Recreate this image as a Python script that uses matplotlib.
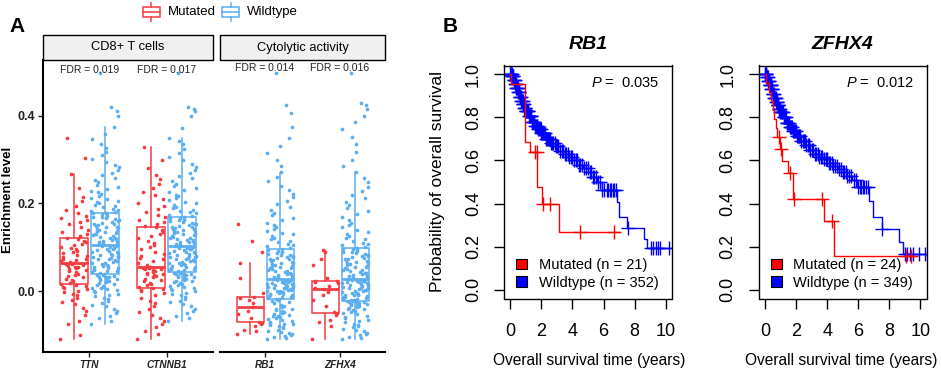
import numpy as np
import matplotlib
matplotlib.use("Agg")
import matplotlib.pyplot as plt
from matplotlib.patches import Rectangle, Patch

plt.rcParams["font.family"] = ["Liberation Sans", "DejaVu Sans"]
plt.rcParams["mathtext.fontset"] = "custom"
plt.rcParams["mathtext.it"] = "Liberation Sans:italic"
plt.rcParams["mathtext.rm"] = "Liberation Sans"

RED = "#F53B40"
BLUE = "#5BAEF2"

# ---------------- panel A: enrichment level ----------------
FACETS = ["CD8+ T cells", "Cytolytic activity"]
GENES = [["TTN", "CTNNB1"], ["RB1", "ZFHX4"]]
FDR_LABELS = [["FDR = 0.019", "FDR = 0.017"], ["FDR = 0.014", "FDR = 0.016"]]

# box stats: whisker low, q1, median, q3, whisker high
BOX_TTN_MUT = [-0.109, 0.015, 0.063, 0.120, 0.267]
BOX_TTN_WT = [-0.074, 0.038, 0.106, 0.179, 0.375]
BOX_CTNNB1_MUT = [-0.109, 0.008, 0.054, 0.146, 0.328]
BOX_CTNNB1_WT = [-0.068, 0.043, 0.103, 0.170, 0.350]
BOX_RB1_MUT = [-0.098, -0.070, -0.037, -0.013, 0.065]
BOX_RB1_WT = [-0.110, -0.019, 0.028, 0.097, 0.269]
BOX_ZFHX4_MUT = [-0.109, -0.049, 0.005, 0.023, 0.094]
BOX_ZFHX4_WT = [-0.110, -0.022, 0.028, 0.099, 0.271]

# sample points (enrichment level x 1000), estimated from the jittered dots
TTN_MUT = [-109, -100, -75, -68, -55, -45, -38, -30, -25, -20, -15, -10, -6, -2, 1, 4, 7, 10, 12, 14,
           16, 19, 22, 25, 28, 31, 34, 37, 40, 43, 45, 48, 50, 52, 54, 56, 58, 60, 61, 62,
           64, 66, 68, 70, 72, 74, 77, 80, 83, 86, 89, 92, 95, 98, 101, 104, 108, 112, 115, 119,
           122, 126, 130, 135, 140, 146, 152, 158, 162, 167, 172, 178, 185, 195, 205, 215, 235, 267, 303, 350]
TTN_WT = [-74, -68, -62, -56, -50, -45, -40, -35, -31, -27, -23, -19, -15, -12, -9, -6, -3, 0, 2, 4,
          6, 8, 10, 12, 14, 16, 18, 20, 22, 24, 25, 27, 28, 30, 31, 32, 33, 35, 36, 37,
          39, 41, 43, 45, 46, 48, 50, 52, 53, 55, 57, 58, 60, 62, 63, 65, 67, 68, 70, 72,
          73, 75, 77, 78, 80, 82, 83, 85, 87, 88, 90, 92, 93, 95, 97, 98, 100, 102, 103, 105,
          107, 109, 111, 113, 114, 116, 118, 120, 122, 123, 125, 127, 129, 131, 132, 134, 136, 138, 140, 141,
          143, 145, 147, 149, 150, 152, 154, 156, 158, 160, 162, 164, 166, 168, 170, 172, 174, 175, 177, 178,
          181, 183, 186, 188, 191, 194, 197, 200, 203, 206, 209, 213, 217, 221, 225, 229, 233, 238, 243, 248,
          253, 258, 264, 270, 276, 282, 288, 295, 302, 310, 318, 327, 336, 346, 358, 375, 400, 410, 420, 497]
CTNNB1_MUT = [-109, -98, -90, -82, -75, -68, -62, -55, -48, -42, -35, -28, -22, -16, -10, -5, -1, 2, 5, 7,
              10, 13, 16, 19, 22, 25, 28, 31, 34, 36, 38, 40, 42, 44, 46, 48, 50, 51, 52, 53,
              56, 60, 64, 68, 72, 76, 80, 85, 90, 95, 100, 105, 110, 115, 120, 125, 130, 135, 140, 145,
              148, 152, 157, 162, 168, 174, 180, 187, 194, 201, 209, 218, 227, 236, 245, 255, 265, 280, 300, 328]
CTNNB1_WT = [-68, -62, -56, -50, -45, -40, -35, -30, -26, -22, -18, -14, -10, -7, -4, -1, 2, 5, 8, 10,
             12, 14, 16, 18, 20, 22, 24, 26, 28, 30, 31, 33, 34, 36, 37, 38, 39, 40, 41, 42,
             44, 45, 47, 48, 50, 51, 53, 54, 56, 57, 59, 60, 62, 63, 65, 66, 68, 69, 71, 72,
             74, 75, 77, 78, 80, 81, 83, 84, 86, 87, 89, 90, 92, 93, 95, 96, 98, 99, 101, 102,
             104, 106, 107, 109, 111, 112, 114, 116, 117, 119, 121, 122, 124, 126, 127, 129, 131, 132, 134, 136,
             137, 139, 141, 142, 144, 146, 147, 149, 151, 152, 154, 156, 157, 159, 161, 162, 164, 166, 167, 169,
             172, 174, 177, 180, 183, 186, 189, 192, 196, 200, 204, 208, 212, 216, 220, 225, 230, 235, 240, 245,
             251, 257, 263, 269, 276, 283, 290, 298, 306, 315, 325, 335, 343, 350, 373, 400, 410, 415, 420, 497]
RB1_MUT = [-98, -92, -88, -80, -75, -72, -70, -62, -52, -45, -37, -28, -20, -15, -13, -5, 30, 65, 90, 115, 152]
RB1_WT = [-110, -108, -105, -103, -100, -98, -95, -93, -90, -88, -85, -83, -80, -78, -76, -74, -72, -70, -68, -66,
          -64, -62, -60, -58, -56, -54, -52, -50, -48, -46, -44, -42, -40, -37, -34, -31, -28, -25, -22, -20,
          -18, -17, -15, -14, -13, -11, -10, -9, -7, -6, -5, -3, -2, -1, 0, 1, 2, 3, 5, 6,
          7, 8, 9, 10, 11, 12, 13, 14, 15, 16, 17, 18, 19, 20, 21, 22, 23, 25, 26, 27,
          29, 31, 33, 35, 36, 38, 40, 41, 43, 45, 46, 48, 50, 52, 53, 55, 57, 58, 60, 62,
          63, 65, 67, 68, 70, 72, 73, 75, 77, 78, 80, 82, 83, 85, 87, 88, 90, 92, 94, 96,
          99, 102, 105, 108, 111, 114, 118, 121, 125, 129, 133, 137, 141, 146, 151, 156, 161, 167, 173, 179,
          185, 192, 199, 206, 214, 222, 231, 240, 250, 260, 272, 285, 300, 315, 330, 350, 375, 405, 425, 497]
ZFHX4_MUT = [-109, -80, -70, -65, -55, -50, -48, -35, -20, -10, -2, 3, 5, 8, 12, 18, 20, 22, 24, 30, 60, 72, 88, 94]
ZFHX4_WT = [-110, -107, -104, -101, -98, -95, -92, -89, -86, -83, -80, -77, -74, -71, -68, -65, -62, -59, -56, -53,
            -50, -48, -46, -44, -42, -40, -38, -36, -34, -32, -31, -30, -29, -28, -27, -26, -25, -24, -23, -22,
            -21, -20, -18, -17, -16, -14, -13, -12, -10, -9, -8, -6, -5, -4, -2, -1, 0, 2, 3, 4,
            6, 7, 8, 10, 11, 12, 14, 15, 16, 18, 19, 20, 21, 22, 23, 24, 25, 26, 27, 28,
            30, 32, 34, 35, 37, 39, 41, 42, 44, 46, 48, 49, 51, 53, 55, 56, 58, 60, 62, 63,
            65, 67, 69, 70, 72, 74, 76, 77, 79, 81, 83, 84, 86, 88, 90, 91, 93, 95, 96, 98,
            101, 104, 107, 110, 114, 118, 122, 126, 130, 135, 140, 145, 150, 156, 162, 168, 175, 182, 189, 196,
            204, 212, 220, 229, 238, 248, 258, 271, 285, 300, 318, 335, 352, 370, 385, 400, 415, 425, 430, 497]

# ---------------- panel B: Kaplan-Meier ----------------
RB1_MUT_T = [0, 0.05, 0.93, 0.97, 1.25, 1.73, 2.07, 3.13]
RB1_MUT_S = [1.0, 0.952, 0.81, 0.686, 0.637, 0.475, 0.397, 0.266]
RB1_MUT_END = 6.97
RB1_MUT_CENS = [1.62, 1.70, 2.12, 2.55, 4.49, 6.65]

RB1_WT_T = [0, 0.1, 0.2, 0.3, 0.4, 0.5, 0.6, 0.7, 0.8, 0.9, 1.0, 1.2, 1.4, 1.6, 1.8, 2.0, 2.3, 2.6, 2.9, 3.2,
            3.5, 3.8, 4.1, 4.4, 4.7, 5.0, 5.3, 5.6, 5.9, 6.87, 6.97, 7.52, 8.6, 8.81]
RB1_WT_S = [1.0, 0.99, 0.975, 0.955, 0.935, 0.915, 0.895, 0.875, 0.86, 0.845, 0.83, 0.805, 0.78, 0.76, 0.745,
            0.725, 0.70, 0.68, 0.665, 0.645, 0.63, 0.615, 0.60, 0.58, 0.565, 0.545, 0.525, 0.50, 0.462,
            0.405, 0.336, 0.285, 0.238, 0.192]
RB1_WT_END = 10.4
RB1_WT_CENS = [0.01, 0.03, 0.05, 0.07, 0.09, 0.11, 0.13, 0.16, 0.19, 0.22, 0.25, 0.28, 0.31, 0.34, 0.37, 0.4,
               0.43, 0.46, 0.49, 0.52, 0.55, 0.58, 0.61, 0.64, 0.67, 0.7, 0.73, 0.76, 0.79, 0.82, 0.85, 0.88,
               0.91, 0.94, 0.97, 1.0, 1.04, 1.08, 1.12, 1.16, 1.2, 1.24, 1.28, 1.32, 1.36, 1.4, 1.45, 1.5,
               1.55, 1.6, 1.65, 1.7, 1.75, 1.8, 1.85, 1.9, 1.95, 2.0, 2.06, 2.12, 2.18, 2.24, 2.3, 2.36,
               2.42, 2.48, 2.55, 2.62, 2.7, 2.78, 2.86, 2.94, 3.02, 3.1, 3.2, 3.3, 3.4, 3.5, 3.6, 3.7, 3.8,
               3.9, 4.0, 4.1, 4.2, 4.3, 4.4, 4.5, 4.6, 4.72, 4.85, 4.98, 5.1, 5.2, 5.3, 5.4, 5.5, 5.62,
               5.75, 5.9, 6.05, 6.2, 6.3, 6.4, 6.5, 6.6, 6.7, 6.8, 7.6, 9.05, 9.2, 9.35, 9.5, 9.65, 10.2]

ZFHX4_MUT_T = [0, 0.05, 0.25, 0.4, 0.5, 0.6, 0.68, 0.75, 1.0, 1.07, 1.5, 1.8, 3.8, 4.42]
ZFHX4_MUT_S = [1.0, 0.958, 0.917, 0.875, 0.833, 0.79, 0.75, 0.708, 0.652, 0.598, 0.544, 0.42, 0.317, 0.158]
ZFHX4_MUT_END = 9.74
ZFHX4_MUT_CENS = [0.9, 1.04, 1.6, 1.85, 3.7, 4.33, 9.1, 9.42]

ZFHX4_WT_T = [0, 0.1, 0.2, 0.3, 0.4, 0.5, 0.6, 0.7, 0.8, 0.9, 1.0, 1.2, 1.4, 1.6, 1.8, 2.0, 2.3, 2.6, 2.9, 3.2,
              3.5, 3.8, 4.1, 4.4, 4.7, 5.0, 5.3, 5.6, 5.9, 6.71, 6.93, 7.53, 8.62, 8.88]
ZFHX4_WT_S = [1.0, 0.985, 0.97, 0.95, 0.93, 0.91, 0.89, 0.87, 0.855, 0.84, 0.825, 0.80, 0.775, 0.755, 0.735,
              0.715, 0.69, 0.67, 0.65, 0.632, 0.618, 0.605, 0.59, 0.575, 0.56, 0.545, 0.53, 0.51, 0.475,
              0.413, 0.336, 0.281, 0.223, 0.165]
ZFHX4_WT_END = 10.4
ZFHX4_WT_CENS = [0.01, 0.03, 0.05, 0.07, 0.09, 0.12, 0.15, 0.18, 0.21, 0.24, 0.27, 0.3, 0.33, 0.36, 0.39, 0.42,
                 0.45, 0.48, 0.51, 0.54, 0.57, 0.6, 0.63, 0.66, 0.69, 0.72, 0.75, 0.78, 0.81, 0.84, 0.87,
                 0.9, 0.93, 0.96, 1.0, 1.04, 1.08, 1.12, 1.16, 1.2, 1.25, 1.3, 1.35, 1.4, 1.45, 1.5, 1.55,
                 1.6, 1.65, 1.7, 1.75, 1.8, 1.86, 1.92, 1.98, 2.04, 2.1, 2.16, 2.22, 2.28, 2.35, 2.42, 2.5,
                 2.58, 2.66, 2.74, 2.82, 2.9, 3.0, 3.1, 3.2, 3.3, 3.4, 3.5, 3.6, 3.7, 3.8, 3.9, 4.0, 4.1,
                 4.2, 4.3, 4.4, 4.5, 4.62, 4.75, 4.88, 5.0, 5.1, 5.2, 5.3, 5.42, 5.55, 5.7, 5.85, 6.0, 6.1,
                 6.2, 6.3, 6.4, 6.5, 6.6, 7.55, 9.0, 9.15, 9.3, 9.5, 9.9, 10.3]

KM_TITLES = ["RB1", "ZFHX4"]
KM_PVALUES = ["0.035", "0.012"]
KM_N = [(21, 352), (24, 349)]

W, H = 941, 371


def _px_axes(fig, left, top, right, bottom):
    return fig.add_axes([left / W, 1 - bottom / H, (right - left) / W, (bottom - top) / H])


def _draw_group(axis, x, values, stats, color):
    lo, q1, med, q3, hi = stats
    axis.bxp([dict(whislo=lo, q1=q1, med=med, q3=q3, whishi=hi, fliers=[])],
             positions=[x], widths=0.36, showcaps=False, patch_artist=True, manage_ticks=False,
             boxprops=dict(facecolor="white", edgecolor=color, linewidth=1.1),
             whiskerprops=dict(color=color, linewidth=1.1),
             medianprops=dict(color=color, linewidth=2.0))
    vals = np.asarray(values, dtype=float) / 1000.0
    idx = np.arange(len(vals), dtype=float)
    # deterministic jitter (quadratic Weyl sequence) in place of geom_jitter
    offsets = ((idx * idx * 0.41421356 + idx * 0.31830989) % 1.0 - 0.5) * 0.36
    axis.scatter(x + offsets, vals, s=7, color=color, linewidths=0, zorder=3)


def _draw_km(axis, times, surv, t_end, cens, color):
    axis.step(list(times) + [t_end], list(surv) + [surv[-1]], where="post", color=color, lw=1.0)
    cens = np.asarray(cens)
    idx = np.searchsorted(times, cens, side="right") - 1
    axis.plot(cens, np.asarray(surv)[idx], ls="none", marker="+", ms=10, mew=1.0, color=color)


fig = plt.figure(figsize=(W / 100, H / 100), dpi=100)
overlay = fig.add_axes([0, 0, 1, 1])
overlay.set_xlim(0, W)
overlay.set_ylim(H, 0)
overlay.axis("off")

# ---- panel A
groups_mut = [[(TTN_MUT, BOX_TTN_MUT), (CTNNB1_MUT, BOX_CTNNB1_MUT)],
              [(RB1_MUT, BOX_RB1_MUT), (ZFHX4_MUT, BOX_ZFHX4_MUT)]]
groups_wt = [[(TTN_WT, BOX_TTN_WT), (CTNNB1_WT, BOX_CTNNB1_WT)],
             [(RB1_WT, BOX_RB1_WT), (ZFHX4_WT, BOX_ZFHX4_WT)]]
facet_px = [(43, 213), (220, 385)]
fdr_y = [0.504, 0.508]

for k, (left, right) in enumerate(facet_px):
    ax = _px_axes(fig, left, 60, right, 352)
    ax.set_facecolor("none")
    for i in range(2):
        _draw_group(ax, i + 1 - 0.2, groups_mut[k][i][0], groups_mut[k][i][1], RED)
        _draw_group(ax, i + 1 + 0.2, groups_wt[k][i][0], groups_wt[k][i][1], BLUE)
        ax.text(i + 1, fdr_y[k], FDR_LABELS[k][i], ha="center", va="center", fontsize=7.5, color="#222222")
    ax.set_xlim(0.4, 2.6)
    ax.set_ylim(-0.139, 0.527)
    ax.set_xticks([1, 2])
    ax.set_xticklabels(GENES[k], fontsize=7.2, fontweight="bold", fontstyle="italic")
    ax.spines["top"].set_visible(False)
    ax.spines["right"].set_visible(False)
    ax.spines["bottom"].set_linewidth(1.5)
    ax.spines["left"].set_linewidth(1.5)
    ax.tick_params(length=3.5, width=1.0, pad=2, colors="#222222")
    if k == 0:
        ax.set_yticks([0.0, 0.2, 0.4])
        ax.set_yticklabels(["0.0", "0.2", "0.4"], fontsize=9, fontweight="bold")
    else:
        ax.spines["left"].set_visible(False)
        ax.set_yticks([])
    overlay.add_patch(Rectangle((left, 35), right - left, 25, fc="#F0F0F0", ec="black", lw=1.0))
    overlay.text((left + right) / 2, 47.5, FACETS[k], ha="center", va="center", fontsize=9.3)

overlay.text(8, 200, "Enrichment level", rotation=90, ha="center", va="center",
             fontsize=9.5, fontweight="bold")

# legend of panel A (box glyphs)
for cx, color, label, tx in [(151.5, RED, "Mutated", 168), (231, BLUE, "Wildtype", 247)]:
    overlay.add_patch(Rectangle((cx - 8.5, 7.3), 17, 9.4, fc="white", ec=color, lw=1.1))
    overlay.plot([cx - 8.5, cx + 8.5], [12, 12], color=color, lw=1.1)
    overlay.plot([cx, cx], [2.7, 7.3], color=color, lw=1.1)
    overlay.plot([cx, cx], [16.7, 20.7], color=color, lw=1.1)
    overlay.text(tx, 12, label, ha="left", va="center", fontsize=9.5)

overlay.text(17, 27, "A", ha="center", va="center", fontsize=15, fontweight="bold")
overlay.text(450, 27, "B", ha="center", va="center", fontsize=15, fontweight="bold")

# ---- panel B
km_sets = [
    (RB1_WT_T, RB1_WT_S, RB1_WT_END, RB1_WT_CENS, RB1_MUT_T, RB1_MUT_S, RB1_MUT_END, RB1_MUT_CENS),
    (ZFHX4_WT_T, ZFHX4_WT_S, ZFHX4_WT_END, ZFHX4_WT_CENS,
     ZFHX4_MUT_T, ZFHX4_MUT_S, ZFHX4_MUT_END, ZFHX4_MUT_CENS),
]
km_px = [(504, 65.5, 672, 298.5), (758.7, 65.5, 926.7, 298.5)]
xlabel_cx = [589, 841]

for k, (left, top, right, bottom) in enumerate(km_px):
    ax = _px_axes(fig, left, top, right, bottom)
    wt_t, wt_s, wt_end, wt_c, mu_t, mu_s, mu_end, mu_c = km_sets[k]
    _draw_km(ax, wt_t, wt_s, wt_end, wt_c, "blue")
    _draw_km(ax, mu_t, mu_s, mu_end, mu_c, "red")
    ax.set_xlim(-0.4, 10.4)
    ax.set_ylim(-0.04, 1.04)
    ax.set_xticks(np.arange(0, 11, 2))
    ax.set_yticks(np.arange(0, 1.01, 0.2))
    ax.set_yticklabels([f"{v:.1f}" for v in np.arange(0, 1.01, 0.2)], rotation=90, va="center")
    ax.tick_params(length=7, width=1.0, labelsize=13)
    ax.tick_params(axis="x", pad=11)
    ax.tick_params(axis="y", pad=9)
    for sp in ax.spines.values():
        sp.set_linewidth(1.0)
    ax.text(0.5, 1 + (top - 45) / (bottom - top), KM_TITLES[k], transform=ax.transAxes,
            ha="center", va="center", fontsize=14, fontweight="bold", fontstyle="italic")
    ax.text(0.928, 0.924, r"$\it{P}$ =  " + KM_PVALUES[k], transform=ax.transAxes,
            ha="right", va="center", fontsize=10.5)
    n_mut, n_wt = KM_N[k]
    handles = [Patch(fc="red", ec="black", lw=0.8, label=f"Mutated (n = {n_mut})"),
               Patch(fc="blue", ec="black", lw=0.8, label=f"Wildtype (n = {n_wt})")]
    ax.legend(handles=handles, loc="lower left", bbox_to_anchor=(0.02, 0.0), frameon=False,
              fontsize=10.5, handlelength=0.75, handleheight=0.75, handletextpad=0.8,
              labelspacing=0.25, borderaxespad=0.2)
    overlay.text(xlabel_cx[k], 360, "Overall survival time (years)", ha="center",
                 va="center", fontsize=11.2)

overlay.text(438, 182, "Probability of overall survival", rotation=90, ha="center", va="center",
             fontsize=12.5)

fig.savefig("out.png", dpi=100)
